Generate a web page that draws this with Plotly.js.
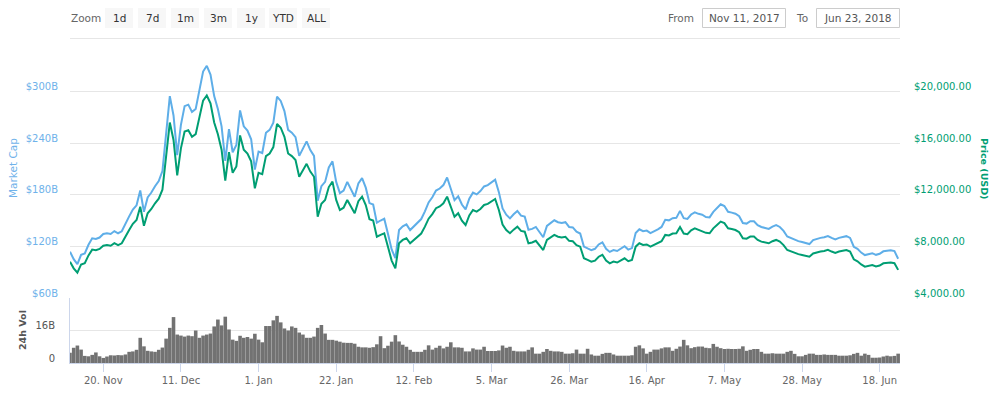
<!DOCTYPE html>
<html>
<head>
<meta charset="utf-8">
<script src="https://cdn.plot.ly/plotly-3.0.1.min.js"></script>
<style>html,body{margin:0;padding:0;background:#fff;}#chart{width:1000px;height:394px;}</style>
</head>
<body>
<div id="chart"></div>
<script>
// Daily values, first day 2017-11-11, last day 2018-06-23
const START_DATE = '2017-11-11';

// Price (USD)
const priceNov = [6815,6300,5960,6600,6700,7300,7750,7700,7800,8050,8110,8050,8250,8100,8240,8800,9273,9750,10050,11080];
const priceDec = [9600,10570,10900,11340,11700,12400,14800,17600,16250,13500,15600,16900,17000,16500,16700,18100,19300,19700,19100,17600,16700,15500,13100,15300,13700,14200,16600,15500,15200,14600,12500];
const priceJan = [13700,13600,15000,15200,15700,17500,17200,16500,15200,15000,14700,13400,13900,14400,13800,13400,10300,11300,11600,12600,13020,11600,10820,11000,11600,11100,10570,11500,11860,11200,10100];
const priceFeb = [10000,8750,8900,9020,7980,6900,6300,8240,8500,8630,8240,8500,8750,9000,9530,10150,10500,10960,11100,11340,11860,11000,10300,10570,10000,9660,10400,10820];
const priceMar = [10700,10900,11210,11300,11470,11680,10820,9700,9270,9020,9300,9530,9200,9140,8240,8300,8430,8100,7720,8500,8700,8890,8750,8700,8750,8430,8400,8100,7980,7080,6950];
const priceApr = [6815,6900,7200,7350,6900,6690,6820,6750,6900,7080,6850,6950,7980,8240,8110,8150,7980,8100,8240,8400,8890,8850,9000,9020,9500,9000,8950,9250,9400,9300];
const priceMay = [9200,9050,9020,9400,9660,9920,9800,9400,9350,9270,9100,8630,8600,8760,8760,8500,8370,8300,8240,8400,8500,8370,8100,7720,7600,7470,7400,7340,7250,7200,7450];
const priceJun = [7550,7600,7650,7730,7600,7500,7600,7680,7720,7600,7000,6850,6600,6430,6500,6560,6450,6520,6690,6720,6750,6700,6180];

// Market cap (billions USD)
const capNov = [113.8,105.2,99.5,110.2,111.9,121.9,129.4,128.6,130.3,134.4,135.4,134.4,137.8,135.3,137.6,147.0,154.9,162.8,167.8,185.0];
const capDec = [160.3,177.0,182.6,189.9,196.0,207.7,247.9,294.8,272.2,226.1,261.3,283.1,284.8,276.4,279.7,303.2,323.3,330.0,319.9,294.8,279.7,259.6,219.4,256.3,229.5,237.9,278.1,259.6,254.6,244.6,209.4];
const capJan = [230.3,228.6,252.2,255.5,263.9,294.2,289.1,277.4,255.5,252.2,247.1,225.3,233.7,242.1,232.0,225.3,173.1,190.0,195.0,211.8,218.9,195.0,181.9,184.9,195.0,186.6,177.7,193.3,199.4,188.3,170.4];
const capFeb = [168.7,147.6,150.1,152.2,134.6,116.4,106.3,139.0,143.4,145.6,139.0,143.4,147.6,151.8,160.8,171.2,177.1,184.9,187.3,191.3,200.1,185.6,173.8,178.3,168.7,163.0,175.4,182.5];
const capMar = [180.5,184.4,189.7,191.2,194.1,197.6,183.1,164.1,156.8,152.6,157.4,161.2,155.7,154.6,139.4,140.4,142.6,137.1,130.6,143.8,147.2,150.4,148.1,147.2,148.1,142.6,142.1,137.1,135.0,119.8,117.6];
const capApr = [115.7,117.2,122.3,124.8,117.2,113.6,115.8,114.6,117.2,120.2,116.3,118.0,135.5,139.9,137.7,138.4,135.5,137.5,139.9,142.6,151.0,150.3,152.8,153.2,161.3,152.8,152.0,157.1,159.6,157.9];
const capMay = [156.8,154.2,153.7,160.2,164.6,169.0,167.0,160.2,159.3,158.0,155.1,147.1,146.5,149.3,149.3,144.8,142.6,141.4,140.4,143.1,144.8,142.6,138.0,131.5,129.5,127.3,126.1,125.1,123.5,122.7,127.3];
const capJun = [129.0,129.9,130.7,132.1,129.9,128.2,129.9,131.3,131.9,129.9,119.6,117.1,112.8,109.9,111.1,112.1,110.2,111.4,114.3,114.8,115.4,114.5,105.6];

// 24h volume (billions USD)
const volNov = [5.0,7.5,8.6,6.6,3.5,3.3,4.0,5.2,3.3,2.5,3.2,3.8,3.7,3.9,3.8,4.2,5.5,5.7,6.5,12.4];
const volDec = [8.2,6.0,5.7,5.5,6.5,7.6,12.0,17.3,22.6,14.0,13.5,13.0,13.5,13.2,16.0,12.4,13.5,14.0,14.5,18.0,21.4,18.5,22.8,16.5,11.5,10.9,13.4,12.4,12.8,12.0,14.4];
const volJan = [11.5,10.2,18.2,18.2,21.0,23.2,20.0,17.0,16.0,18.0,17.3,15.0,14.0,12.4,12.4,13.0,17.3,18.7,14.5,11.4,11.4,11.0,10.5,10.0,9.9,9.9,9.5,8.0,7.7,7.7,7.5];
const volFeb = [7.8,9.2,13.2,7.3,8.5,10.5,13.7,10.6,9.0,8.0,6.5,5.5,5.5,5.5,6.5,8.7,6.6,7.5,8.5,7.2,8.0,10.2,7.7,7.7,7.5,5.7,5.7,7.2];
const volMar = [6.6,6.6,8.0,5.9,5.9,5.9,6.2,8.6,7.5,8.0,6.0,5.7,5.7,5.7,6.5,7.7,4.6,4.6,5.5,6.9,6.0,5.7,5.7,5.5,4.6,4.6,4.8,6.6,4.6,4.6,7.0];
const volApr = [4.2,3.6,3.6,4.5,5.0,5.0,4.2,3.6,3.6,3.6,3.6,3.8,8.0,8.7,7.2,4.6,5.5,6.6,6.6,7.2,7.7,7.7,6.0,7.0,8.1,11.4,8.7,7.3,7.8,8.1];
const volMay = [8.1,7.5,7.3,9.4,8.0,7.3,6.9,7.0,6.9,6.9,7.0,8.2,6.0,6.5,6.9,6.9,5.5,4.6,4.6,4.8,4.6,4.6,4.6,5.5,6.0,4.5,3.3,3.3,4.0,4.6,4.6];
const volJun = [4.0,4.0,4.2,4.0,4.0,4.0,3.6,3.6,3.6,3.8,4.5,5.0,3.6,4.6,4.0,2.6,2.6,2.7,3.2,3.6,3.3,3.5,4.6];

// Axis tick labels
const capTicks = [60,120,180,240,300,360];
const capTickText = ['$60B','$120B','$180B','$240B','$300B',''];
const priceTicks = [4000,8000,12000,16000,20000];
const priceTickText = ['$4,000.00','$8,000.00','$12,000.00','$16,000.00','$20,000.00'];
const volTicks = [0,16];
const volTickText = ['0','16B'];
const zoomButtons = ['1d','7d','1m','3m','1y','YTD','ALL'];
const fromText = 'Nov 11, 2017';
const toText = 'Jun 23, 2018';

const price = [].concat(priceNov,priceDec,priceJan,priceFeb,priceMar,priceApr,priceMay,priceJun);
const cap = [].concat(capNov,capDec,capJan,capFeb,capMar,capApr,capMay,capJun);
const vol = [].concat(volNov,volDec,volJan,volFeb,volMar,volApr,volMay,volJun);

const t0 = Date.parse(START_DATE + 'T00:00:00Z');
const dates = price.map((_, i) => new Date(t0 + i * 86400000).toISOString().slice(0, 10));

const FONT = 'DejaVu Sans, Verdana, sans-serif';
const BLUE = '#5eaee8';
const GREEN = '#009e73';

const traces = [
  {type:'bar', x:dates, y:vol, xaxis:'x', yaxis:'y', marker:{color:'#727272', line:{width:0}}, hoverinfo:'skip', showlegend:false},
  {type:'scatter', mode:'lines', x:dates, y:cap, xaxis:'x', yaxis:'y2', line:{color:BLUE, width:2}, hoverinfo:'skip', showlegend:false},
  {type:'scatter', mode:'lines', x:dates, y:price, xaxis:'x', yaxis:'y3', line:{color:GREEN, width:2}, hoverinfo:'skip', showlegend:false}
];

// pixel helpers for header decorations (plot area: x 70..900, y 40..363)
const PL = 70, PW = 830, PB = 363, PH = 323;
const px = v => (v - PL) / PW;
const py = v => (PB - v) / PH;

const shapes = [];
const annotations = [];
// separator line under the toolbar
shapes.push({type:'line', xref:'paper', yref:'paper', x0:0, x1:1, y0:py(38.5), y1:py(38.5),
  line:{color:'#e6e6e6', width:1}});
annotations.push({xref:'paper', yref:'paper', x:px(86), y:py(18), text:'Zoom', showarrow:false,
  font:{family:FONT, size:10.5, color:'#666'}, xanchor:'center', yanchor:'middle'});
const btnLeft = [105,138,171,204,237,269,302];
zoomButtons.forEach((b, i) => {
  const x0 = btnLeft[i], x1 = x0 + 28;
  shapes.push({type:'rect', xref:'paper', yref:'paper', x0:px(x0), x1:px(x1), y0:py(28), y1:py(8),
    fillcolor:'#f7f7f7', line:{width:0}, layer:'below'});
  annotations.push({xref:'paper', yref:'paper', x:px((x0+x1)/2), y:py(18), text:b, showarrow:false,
    font:{family:FONT, size:10.5, color:'#333'}, xanchor:'center', yanchor:'middle'});
});
annotations.push({xref:'paper', yref:'paper', x:px(681), y:py(18), text:'From', showarrow:false,
  font:{family:FONT, size:10.5, color:'#666'}, xanchor:'center', yanchor:'middle'});
annotations.push({xref:'paper', yref:'paper', x:px(802), y:py(18), text:'To', showarrow:false,
  font:{family:FONT, size:10.5, color:'#666'}, xanchor:'center', yanchor:'middle'});
[[702,786,fromText],[816,900,toText]].forEach(([a,b,t]) => {
  shapes.push({type:'rect', xref:'paper', yref:'paper', x0:px(a+0.5), x1:px(b-0.5), y0:py(27.5), y1:py(8.5),
    fillcolor:'#ffffff', line:{color:'#cccccc', width:1}, layer:'below'});
  annotations.push({xref:'paper', yref:'paper', x:px((a+b)/2), y:py(18), text:t, showarrow:false,
    font:{family:FONT, size:10.5, color:'#555'}, xanchor:'center', yanchor:'middle'});
});
// axis titles
annotations.push({xref:'paper', yref:'paper', x:px(13), y:py(168), text:'Market Cap', textangle:-90, showarrow:false,
  font:{family:FONT, size:10.5, color:'#6fb2ea'}, xanchor:'center', yanchor:'middle'});
annotations.push({xref:'paper', yref:'paper', x:px(985), y:py(168), text:'<b>Price (USD)</b>', textangle:90, showarrow:false,
  font:{family:FONT, size:9.5, color:GREEN}, xanchor:'center', yanchor:'middle'});
annotations.push({xref:'paper', yref:'paper', x:px(22), y:py(330), text:'<b>24h Vol</b>', textangle:-90, showarrow:false,
  font:{family:FONT, size:9.5, color:'#555'}, xanchor:'center', yanchor:'middle'});

const volTop = (PB - 298) / PH;

const layout = {
  width:1000, height:394,
  margin:{l:70, r:100, t:40, b:31, pad:0},
  paper_bgcolor:'#ffffff', plot_bgcolor:'#ffffff',
  showlegend:false, hovermode:false, bargap:0.03,
  font:{family:FONT, size:10, color:'#666'},
  xaxis:{type:'date', anchor:'y', range:['2017-11-11','2018-06-23 12:00'],
    tick0:'2017-11-20', dtick:21*86400000, tickformat:'%-d. %b',
    ticks:'outside', ticklen:8, tickcolor:'#ccd6eb', tickwidth:1,
    showline:true, linecolor:'#ccd6eb', linewidth:1, showgrid:false, zeroline:false,
    tickfont:{family:FONT, size:10, color:'#666'}, fixedrange:true},
  yaxis:{domain:[0, volTop], range:[0,32], tickvals:volTicks, ticktext:volTickText,
    showgrid:true, gridcolor:'#e6e6e6', zeroline:false, showline:true, linecolor:'#ccd6eb',
    ticks:'', ticklabelstandoff:12, ticklabelshift:-5,
    tickfont:{family:FONT, size:10, color:'#555'}, fixedrange:true},
  yaxis2:{domain:[volTop, 1], anchor:'x', range:[60,360], tickvals:capTicks, ticktext:capTickText,
    showgrid:true, gridcolor:'#e6e6e6', zeroline:false, showline:false,
    ticks:'', ticklabelstandoff:11, ticklabelshift:-5,
    tickfont:{family:FONT, size:10, color:'#6fb2ea'}, fixedrange:true},
  yaxis3:{overlaying:'y2', side:'right', anchor:'x', range:[4000,24000], tickvals:priceTicks, ticktext:priceTickText,
    showgrid:false, zeroline:false, showline:false,
    ticks:'', ticklabelstandoff:13, ticklabelshift:-5,
    tickfont:{family:FONT, size:10, color:GREEN}, fixedrange:true},
  shapes:shapes,
  annotations:annotations
};

Plotly.newPlot('chart', traces, layout, {staticPlot:true, displayModeBar:false});
</script>
</body>
</html>
